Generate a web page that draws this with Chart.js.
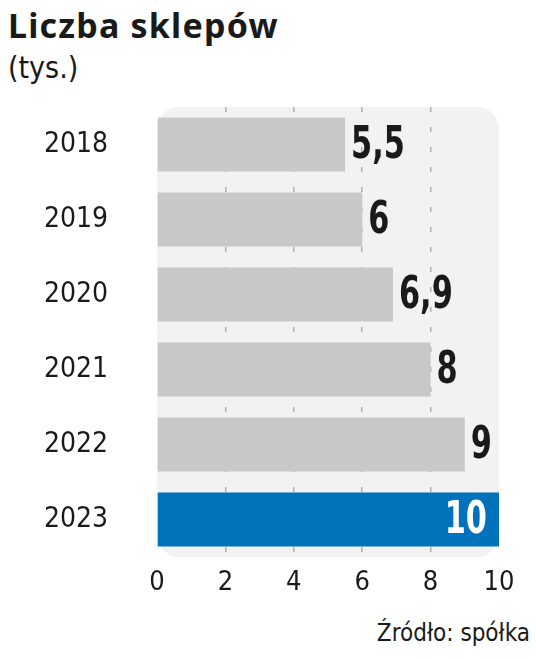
<!DOCTYPE html>
<html>
<head>
<meta charset="utf-8">
<script src="https://cdn.jsdelivr.net/npm/chart.js@4"></script>
<style>
  body { margin: 0; background: #fff; width: 536px; height: 659px; position: relative; overflow: hidden; }
  #title { position: absolute; left: 8px; top: 2px; font: bold 34px "Noto Sans", sans-serif; color: #1a1a1a; letter-spacing: 1.2px; }
  #unit { position: absolute; left: 8px; top: 50px; font: 30px "DejaVu Sans Condensed", "Noto Sans", sans-serif; color: #1a1a1a; }
  #source { position: absolute; right: 6px; top: 619px; font: 24px "DejaVu Sans Condensed", sans-serif; color: #1a1a1a; }
  #myChart { position: absolute; left: 0; top: 100px; }
</style>
</head>
<body>
<div id="title">Liczba sklepów</div>
<div id="unit">(tys.)</div>
<canvas id="myChart" width="536" height="510"></canvas>
<div id="source">Źródło: spółka</div>
<script>
// values (thousands of shops)
var years = ['2018', '2019', '2020', '2021', '2022', '2023'];
var shops = [5.5, 6, 6.9, 8, 9, 10];
var valueLabels = ['5,5', '6', '6,9', '8', '9', '10'];
var xTicks = [0, 2, 4, 6, 8, 10];

var grey = '#c8c8c8';
var blue = '#0072bb';
var numFont = '"DejaVu Sans Condensed", sans-serif';

// light rounded panel behind the plot
var panel = {
    id: 'panel',
    beforeDraw: function (chart) {
        var a = chart.chartArea;
        var ctx = chart.ctx;
        ctx.save();
        ctx.fillStyle = '#f2f2f2';
        ctx.beginPath();
        ctx.roundRect(a.left, a.top, a.right - a.left, a.bottom - a.top, 22);
        ctx.fill();
        ctx.restore();
    }
};

// bold numbers at the end of each bar, the last one inside in white
var valueText = {
    id: 'valueText',
    afterDatasetsDraw: function (chart) {
        var ctx = chart.ctx;
        var bars = chart.getDatasetMeta(0).data;
        var sx = 0.75; // squeeze the font, the original is a narrow face
        bars.forEach(function (bar, i) {
            var last = i == bars.length - 1;
            ctx.save();
            ctx.font = 'bold 45px ' + numFont;
            ctx.textBaseline = 'middle';
            ctx.scale(sx, 1);
            if (last) {
                ctx.fillStyle = '#ffffff';
                ctx.textAlign = 'right';
                ctx.fillText(valueLabels[i], (bar.x - 12) / sx, bar.y + 2);
            } else {
                ctx.fillStyle = '#1a1a1a';
                ctx.textAlign = 'left';
                ctx.fillText(valueLabels[i], (bar.x + 6) / sx, bar.y + 2);
            }
            ctx.restore();
        });
    }
};

var ctx = document.getElementById('myChart').getContext('2d');
new Chart(ctx, {
    type: 'bar',
    data: {
        labels: years,
        datasets: [{
            data: shops,
            backgroundColor: shops.map(function (v, i) { return i == shops.length - 1 ? blue : grey; }),
            barPercentage: 0.72,
            categoryPercentage: 1
        }]
    },
    options: {
        indexAxis: 'y',
        responsive: false,
        animation: false,
        layout: { padding: { top: 7, right: 37, bottom: 13, left: 0 } },
        plugins: { legend: { display: false }, tooltip: { enabled: false } },
        scales: {
            x: {
                min: 0,
                max: 10,
                afterBuildTicks: function (scale) {
                    scale.ticks = xTicks.map(function (v) { return { value: v }; });
                },
                afterFit: function (scale) { scale.height = 40; },
                border: { display: false, dash: [5, 15] },
                grid: {
                    drawTicks: false,
                    color: function (c) {
                        var v = c.tick ? c.tick.value : 0;
                        return (v == 0 || v == 10) ? 'rgba(0,0,0,0)' : '#b0b0b0';
                    },
                    lineWidth: 1.5
                },
                ticks: {
                    padding: 10,
                    maxRotation: 0,
                    color: '#1a1a1a',
                    font: { family: '"DejaVu Sans Condensed", sans-serif', size: 27 }
                }
            },
            y: {
                afterFit: function (scale) {
                    scale.width = 157;
                    // the big label padding should not push the plot down
                    scale.paddingTop = 0;
                    scale.paddingBottom = 0;
                },
                border: { display: false },
                grid: { display: false },
                ticks: {
                    padding: 41,
                    color: '#1a1a1a',
                    font: { family: '"DejaVu Sans Condensed", sans-serif', size: 28 }
                }
            }
        }
    },
    plugins: [panel, valueText]
});
</script>
</body>
</html>
